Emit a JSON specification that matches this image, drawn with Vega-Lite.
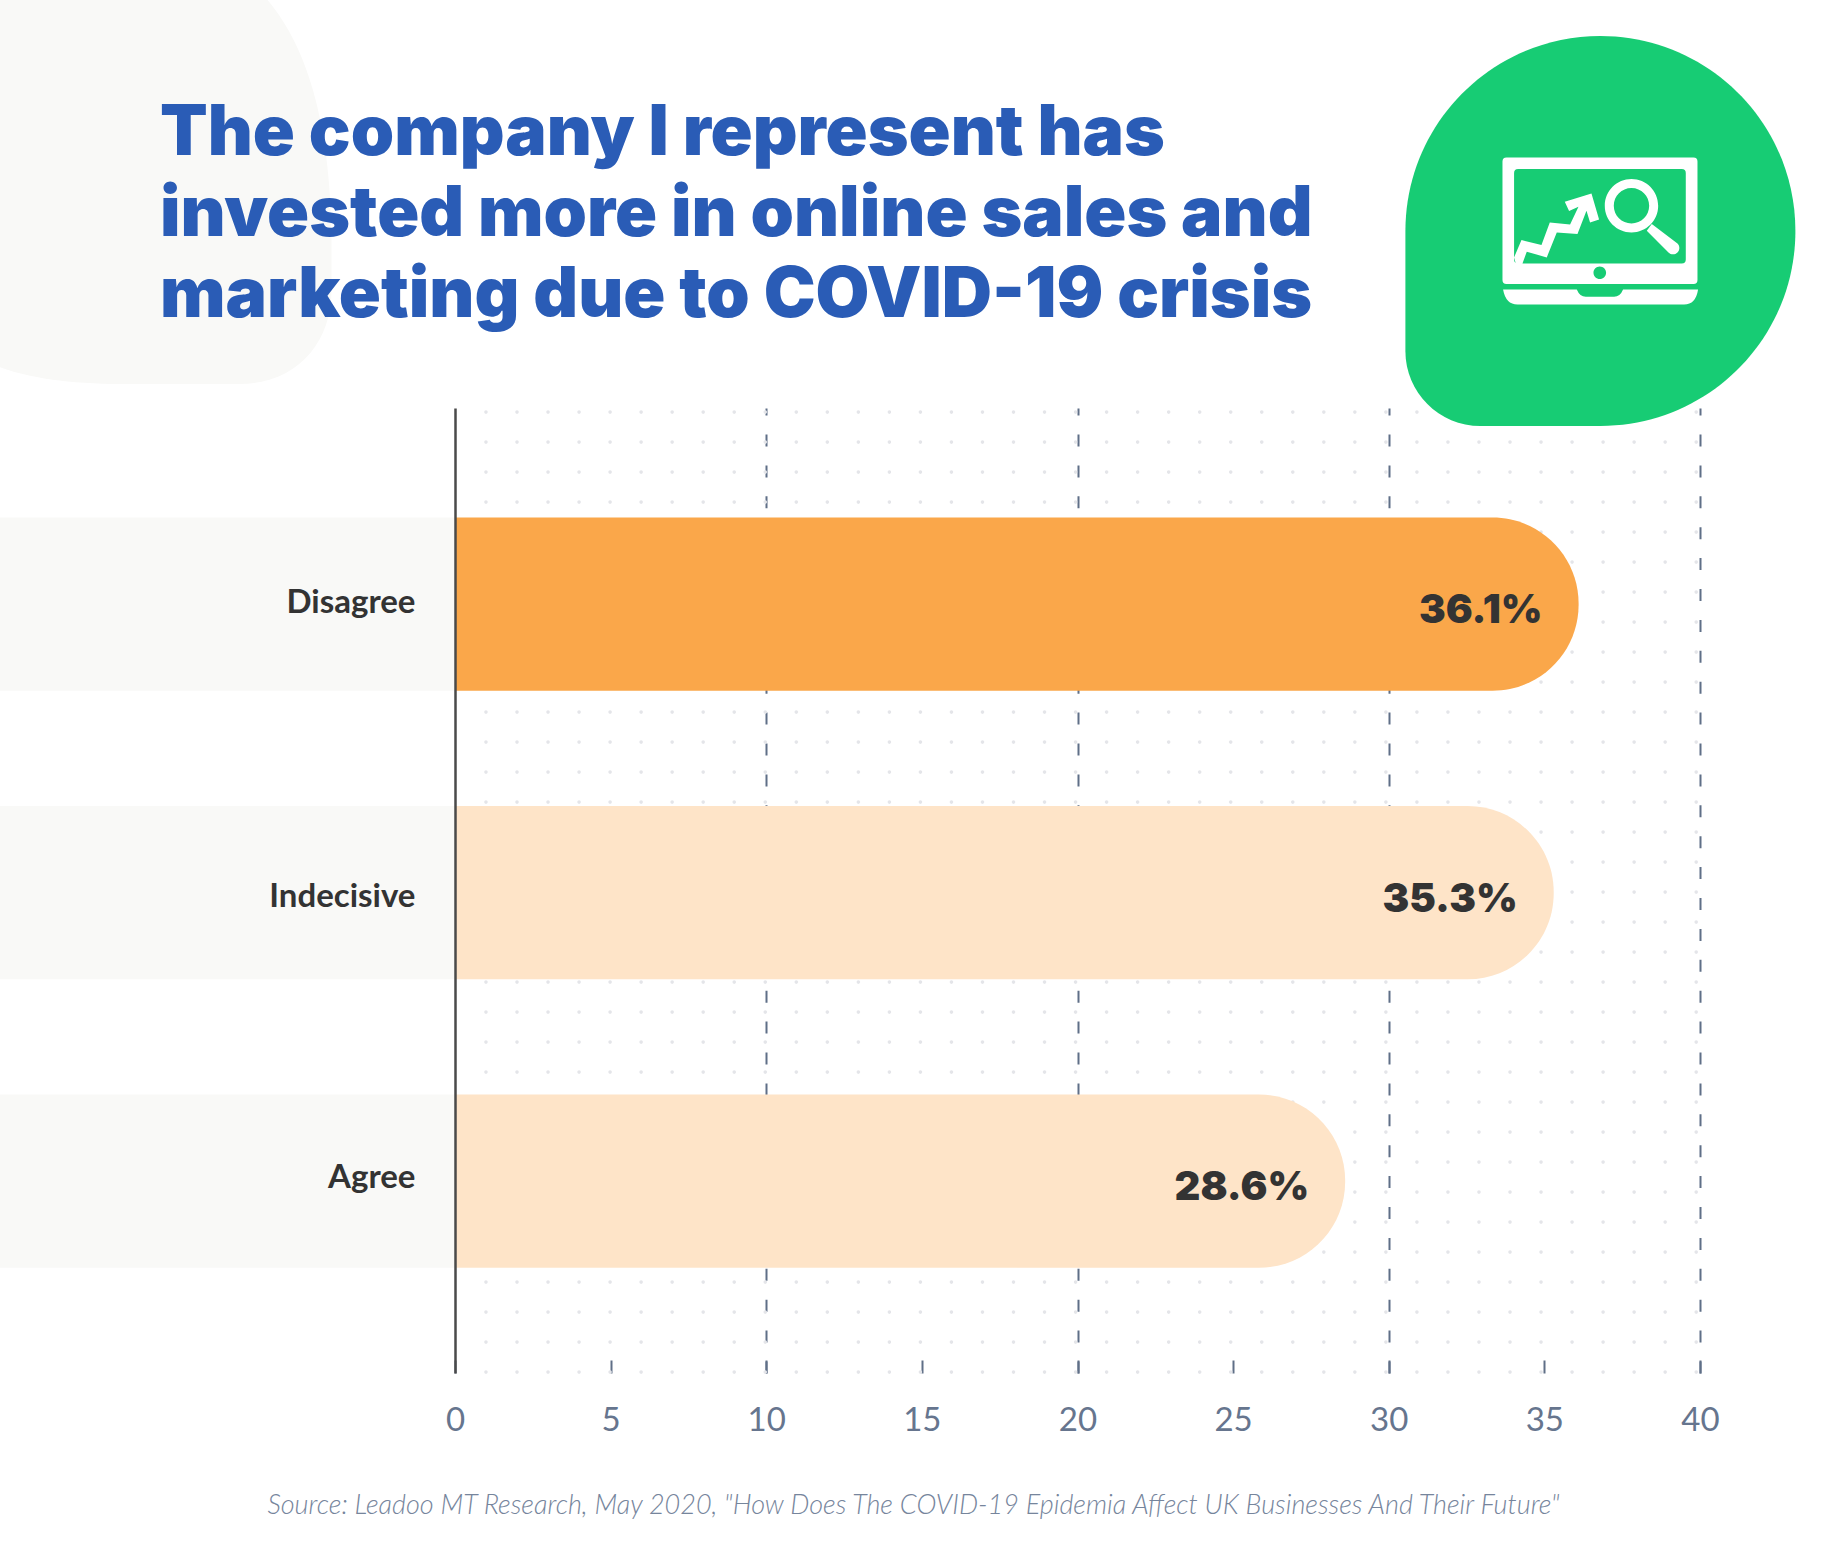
{
"$schema":"https://vega.github.io/schema/vega-lite/v6.json",
"width":1245,"height":965,
"autosize":{"type":"none"},
"padding":{"left":455,"top":408,"right":125,"bottom":177},
"background":"white",
"title":{"text":["The company I represent has","invested more in online sales and","marketing due to COVID-19 crisis"],"anchor":"start","frame":"group","baseline":"alphabetic","align":"left","font":"Inter","fontWeight":900,"fontSize":69.5,"lineHeight":81,"color":"#2a5cb6","dx":-295,"offset":0,"dy":386},
"datasets":{
"responses":[{"category":"Disagree","value":36.1},{"category":"Indecisive","value":35.3},{"category":"Agree","value":28.6}],
"dotColumns":[{"c":0.995},{"c":1.992},{"c":2.989},{"c":3.986},{"c":4.983},{"c":5.98},{"c":6.977},{"c":7.974},{"c":8.971},{"c":9.968},{"c":10.965},{"c":11.962},{"c":12.959},{"c":13.956},{"c":14.953},{"c":15.95},{"c":16.947},{"c":17.944},{"c":18.941},{"c":19.938},{"c":20.935},{"c":21.932},{"c":22.929},{"c":23.926},{"c":24.923},{"c":25.92},{"c":26.917},{"c":27.914},{"c":28.911},{"c":29.908},{"c":30.905},{"c":31.902},{"c":32.899},{"c":33.896},{"c":34.893},{"c":35.89},{"c":36.887},{"c":37.884},{"c":38.881},{"c":39.878}]
},
"layer":[
{"data":{"name":"dotColumns"},
 "mark":{"type":"rule","strokeDash":[0.1,29.9],"strokeDashOffset":-4,"strokeCap":"round","strokeWidth":3.6,"color":"#e4e5e9"},
 "encoding":{"x":{"field":"c","type":"quantitative","scale":{"domain":[0,40],"nice":false,"zero":false},
  "axis":{"values":[0,5,10,15,20,25,30,35,40],"domain":false,"grid":true,"gridColor":"#5f6f87","gridWidth":2,"gridDash":[12,18.9],"gridOpacity":{"condition":{"test":"datum.value > 0 && datum.value % 10 === 0","value":1},"value":0},"tickColor":"#5f6f87","tickWidth":2,"tickSize":-13,"labelFont":"Lato","labelFontSize":33,"labelColor":"#66758e","labelPadding":44,"labelBaseline":"top","labelFlush":false,"labelOverlap":false,
  "title":"Source: Leadoo MT Research, May 2020, \"How Does The COVID-19 Epidemia Affect UK Businesses And Their Future\"","titleFont":"Lato","titleFontStyle":"italic","titleFontWeight":300,"titleFontSize":27,"titleColor":"#76859c","titleX":458,"titleY":119,"titleAnchor":"middle","titleAlign":"center"}}}},
{"data":{"values":[{"x":-9.3,"pageY":192}]},
 "mark":{"type":"point","filled":true,"opacity":1,"fill":"#f9f9f7","size":160000,"shape":"M-0.83 -0.96 L0.51 -0.96 C0.72 -0.71 0.83 -0.31 0.83 0.29 L0.83 0.49 C0.83 0.765 0.645 0.96 0.37 0.96 L-0.18 0.96 C-0.43 0.96 -0.655 0.94 -0.83 0.875 Z"},
 "encoding":{"x":{"field":"x","type":"quantitative"},"y":{"field":"pageY","type":"quantitative","axis":null,"scale":{"domain":[408,1373],"reverse":true,"zero":false,"nice":false}}}},
{"data":{"values":[{"x":36.8,"pageY":231}]},
 "mark":{"type":"point","filled":true,"opacity":1,"fill":"#17cc74","size":152100,"shape":"M-1 0 A1 1 0 1 1 0 1 L-0.615 1 A0.385 0.385 0 0 1 -1 0.615 Z"},
 "encoding":{"x":{"field":"x","type":"quantitative"},"y":{"field":"pageY","type":"quantitative","axis":null,"scale":{"domain":[408,1373],"reverse":true,"zero":false,"nice":false}}}},
{"data":{"values":[{"x":36.78,"pageY":230.7}]},
 "mark":{"type":"point","filled":true,"opacity":1,"fill":"#ffffff","size":40000,"shape":"M-0.933 -0.733 L0.937 -0.733 Q0.977 -0.733 0.977 -0.693 L0.977 0.493 Q0.977 0.533 0.937 0.533 L-0.933 0.533 Q-0.973 0.533 -0.973 0.493 L-0.973 -0.693 Q-0.973 -0.733 -0.933 -0.733 Z M-0.817 -0.617 Q-0.857 -0.617 -0.857 -0.577 L-0.857 0.287 Q-0.857 0.327 -0.817 0.327 L0.82 0.327 Q0.86 0.327 0.86 0.287 L0.86 -0.577 Q0.86 -0.617 0.82 -0.617 Z M0.063 0.42 A0.063 0.063 0 0 0 -0.063 0.42 A0.063 0.063 0 0 0 0.063 0.42 Z M-0.967 0.587 L-0.23 0.587 Q-0.2 0.66 -0.14 0.66 L0.143 0.66 Q0.203 0.66 0.233 0.587 L0.983 0.587 Q0.96 0.737 0.843 0.737 L-0.823 0.737 Q-0.94 0.737 -0.967 0.587 Z M-0.857 0.267 L-0.783 0.093 L-0.583 0.143 L-0.5 -0.083 L-0.297 -0.063 L-0.213 -0.24 L-0.307 -0.197 L-0.35 -0.29 L-0.083 -0.373 L-0.007 -0.113 L-0.097 -0.083 L-0.133 -0.2 L-0.223 0.033 L-0.43 0.017 L-0.53 0.267 L-0.73 0.21 L-0.773 0.327 L-0.84 0.327 Z M0.05 -0.25 A0.267 0.267 0 0 1 0.584 -0.25 A0.267 0.267 0 0 1 0.05 -0.25 Z M0.14 -0.25 A0.177 0.177 0 0 0 0.494 -0.25 A0.177 0.177 0 0 0 0.14 -0.25 Z M0.52 -0.067 L0.777 0.127 A0.06 0.06 0 0 1 0.687 0.217 L0.47 0 Z"},
 "encoding":{"x":{"field":"x","type":"quantitative"},"y":{"field":"pageY","type":"quantitative","axis":null,"scale":{"domain":[408,1373],"reverse":true,"zero":false,"nice":false}}}},
{"data":{"name":"responses"},
 "mark":{"type":"bar","fill":"#f9f9f7"},
 "encoding":{"x":{"datum":-14.64,"type":"quantitative"},"x2":{"datum":0},
 "y":{"field":"category","type":"nominal","axis":null,"scale":{"type":"band","domain":["Disagree","Indecisive","Agree"],"paddingInner":0.4,"paddingOuter":0.3725,"align":0.51}}}},
{"data":{"name":"responses"},
 "mark":{"type":"bar","cornerRadiusEnd":86},
 "encoding":{"x":{"field":"value","type":"quantitative","stack":null},
 "y":{"field":"category","type":"nominal","scale":{"type":"band","domain":["Disagree","Indecisive","Agree"],"paddingInner":0.4,"paddingOuter":0.3725,"align":0.51},
  "axis":{"orient":"left","title":null,"ticks":false,"grid":false,"domain":true,"domainColor":"#4a4a4a","domainWidth":2.5,"zindex":1,"labelFont":"Lato","labelFontWeight":700,"labelFontSize":33,"labelColor":"#333333","labelPadding":40,"labelLimit":400,"encoding":{"labels":{"dy":{"condition":[{"test":"datum.value==='Indecisive'","value":4.6},{"test":"datum.value==='Agree'","value":-3.5}],"value":-1}}}}},
 "color":{"field":"category","type":"nominal","legend":null,"scale":{"domain":["Disagree","Indecisive","Agree"],"range":["#faa74a","#fee4c8","#fee4c8"]}}}},
{"data":{"name":"responses"},
 "transform":[{"calculate":"format(datum.value,'.1f')+'%'","as":"label"}],
 "mark":{"type":"text","align":"right","baseline":"middle","dx":-36,"dy":7,"font":"Inter","fontWeight":900,"fontSize":40,"color":"#333333"},
 "encoding":{"x":{"field":"value","type":"quantitative"},
 "y":{"field":"category","type":"nominal","axis":null,"scale":{"type":"band","domain":["Disagree","Indecisive","Agree"],"paddingInner":0.4,"paddingOuter":0.3725,"align":0.51}},
 "text":{"field":"label"}}}
],
"resolve":{"scale":{"y":"independent"}},
"config":{"view":{"stroke":null}}
}
